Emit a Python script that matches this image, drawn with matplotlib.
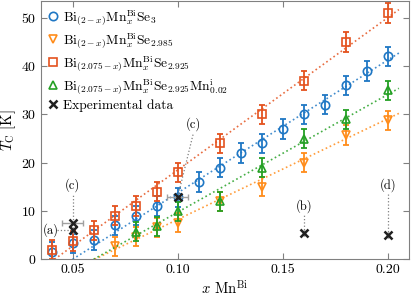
import numpy as np
import matplotlib
matplotlib.use('Agg')
import matplotlib.pyplot as plt

plt.rcParams['font.family'] = 'cmr10'
plt.rcParams['mathtext.fontset'] = 'cm'
plt.rcParams['axes.formatter.use_mathtext'] = True
plt.rcParams['font.size'] = 9

# Bi(2-x)Mn_x Se3
x_se3 = [0.04, 0.05, 0.06, 0.07, 0.08, 0.09, 0.10, 0.11, 0.12, 0.13, 0.14, 0.15, 0.16, 0.17, 0.18, 0.19, 0.20]
tc_se3 = [1.5, 3.3, 4, 7, 9, 11, 12.8, 16, 19, 22, 24, 27, 30, 32, 36, 39, 42]
# Bi(2-x)Mn_x Se2.985
x_se2985 = [0.07, 0.08, 0.09, 0.10, 0.12, 0.14, 0.16, 0.18, 0.20]
tc_se2985 = [2.7, 4.7, 6.6, 7.6, 12, 15, 20, 25.7, 28.8]
# Bi(2.075-x)Mn_x Se2.925
x_se2925 = [0.04, 0.05, 0.06, 0.07, 0.08, 0.09, 0.10, 0.12, 0.14, 0.16, 0.18, 0.20]
tc_se2925 = [2, 3.8, 6, 9, 11, 14, 18, 24, 30, 37, 45, 51]
# Bi(2.075-x)Mn_x Se2.925 Mn_i 0.02
x_mni = [0.08, 0.09, 0.10, 0.12, 0.14, 0.16, 0.18, 0.20]
tc_mni = [5.7, 6.8, 9.9, 12, 19, 25, 29, 35]
tc_err = 2.0

# linear fits: x where Tc=0, Tc at x_fit_end
x_fit_end = 0.2052
fit_se3 = (0.050, 42.7)
fit_se2985 = (0.0605, 30.2)
fit_se2925 = (0.0414, 51.7)
fit_mni = (0.060, 35.4)

# experimental data
x_exp = [0.05, 0.05, 0.10, 0.16, 0.20]
tc_exp = [6.0, 7.6, 12.9, 5.5, 5.0]
xerr_exp = [0, 0.005, 0.005, 0, 0]
exp_labels = ['(a)', '(c)', '(c)', '(b)', '(d)']
label_pos = [(0.0395, 6.0), (0.05, 15.3), (0.1075, 28.0), (0.16, 11.1), (0.20, 15.3)]

c_blue = '#1f77c4'
c_tri = '#ff8c1a'
c_sq = '#e4521e'
c_green = '#24a024'

fig = plt.figure(figsize=(4.11, 2.98), dpi=100)
ax = fig.add_axes([0.1, 0.13, 0.895, 0.867])

series = [
    (x_se3, tc_se3, fit_se3, c_blue, 'o', r'Bi$_{(2-x)}$Mn$_x^{\mathrm{Bi}}$Se$_3$'),
    (x_se2985, tc_se2985, fit_se2985, c_tri, 'v', r'Bi$_{(2-x)}$Mn$_x^{\mathrm{Bi}}$Se$_{2.985}$'),
    (x_se2925, tc_se2925, fit_se2925, c_sq, 's', r'Bi$_{(2.075-x)}$Mn$_x^{\mathrm{Bi}}$Se$_{2.925}$'),
    (x_mni, tc_mni, fit_mni, c_green, '^', r'Bi$_{(2.075-x)}$Mn$_x^{\mathrm{Bi}}$Se$_{2.925}$Mn$_{0.02}^{\mathrm{i}}$'),
]

handles = []
for xs, ys, fit, col, mk, lab in series:
    ax.plot([fit[0], x_fit_end], [0, fit[1]], ':', color=col, lw=1.2, alpha=0.85)
    ax.errorbar(xs, ys, yerr=tc_err, fmt='none', ecolor=col, elinewidth=1.3, capsize=2.5, capthick=1.3)
    h, = ax.plot(xs, ys, mk, color=col, mfc='none', mew=1.2, ms=6, ls='none', label=lab)
    handles.append(h)

# annotation connectors
for (xm, ym), (xl, yl), lab in zip(zip(x_exp, tc_exp), label_pos, exp_labels):
    if lab == '(a)':
        ax.plot([xl + 0.003, xm], [yl, ym], ':', color='gray', lw=0.9)
        ax.text(xl, yl, lab, ha='center', va='center', fontsize=9)
    else:
        ax.plot([xm, xl if lab == '(c)' and xm > 0.06 else xm], [ym, yl - 1.8], ':', color='gray', lw=0.9)
        ax.text(xl, yl, lab, ha='center', va='center', fontsize=9)

ax.errorbar(x_exp, tc_exp, xerr=xerr_exp, fmt='none', ecolor='#a0a0a0', elinewidth=1.0, capsize=2.5)
h, = ax.plot(x_exp, tc_exp, 'x', color='#202020', mew=1.8, ms=5.5, ls='none', label='Experimental data')
handles.append(h)

ax.set_xlim(0.035, 0.21)
ax.set_ylim(0, 53.5)
ax.set_xticks([0.05, 0.10, 0.15, 0.20])
ax.set_xticklabels(['0.05', '0.10', '0.15', '0.20'])
ax.set_yticks([0, 10, 20, 30, 40, 50])
ax.tick_params(direction='in', top=True, right=True, color='#808080', length=4, labelsize=10)
for s in ax.spines.values():
    s.set_color('#808080')
ax.set_xlabel(r'$x$ Mn$^{\mathrm{Bi}}$', fontsize=10.5, labelpad=2)
ax.set_ylabel(r'$T_{\mathrm{C}}$ [K]', fontsize=10.5, labelpad=2)

ax.legend(handles=handles, loc='upper left', frameon=False, fontsize=9.7,
          handlelength=0.8, handletextpad=0.3, labelspacing=0.3, borderaxespad=0.2,
          borderpad=0.3)

fig.savefig('out.png', dpi=100)
